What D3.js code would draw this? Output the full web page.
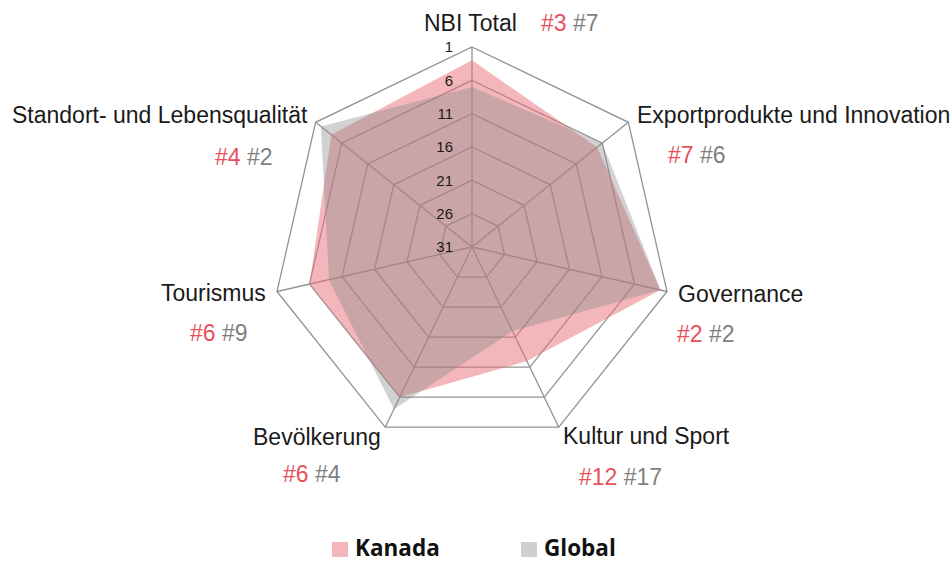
<!DOCTYPE html>
<html>
<head>
<meta charset="utf-8">
<script src="https://cdn.jsdelivr.net/npm/d3@7"></script>
<style>
  html, body { margin: 0; padding: 0; background: #fff; }
  svg { display: block; }
</style>
</head>
<body>
<svg id="chart" width="952" height="563"></svg>
<script>
// Nation Brands Index – Kanada vs. Global ranks per dimension
const categories = [
  "NBI Total",
  "Exportprodukte und Innovation",
  "Governance",
  "Kultur und Sport",
  "Bevölkerung",
  "Tourismus",
  "Standort- und Lebensqualität"
];
const kanadaRanks = [3, 7, 2, 12, 6, 6, 4];
const globalRanks = [7, 6, 2, 17, 4, 9, 2];
const tickValues = [1, 6, 11, 16, 21, 26, 31];
const seriesNames = ["Kanada", "Global"];

// Label placement for each dimension: name line and rank line (baselines)
const labelLayout = [
  { nx: 424, ny: 31, rx: 541, ry: 31 },
  { nx: 637, ny: 123, rx: 668, ry: 163 },
  { nx: 678, ny: 302, rx: 677, ry: 342 },
  { nx: 563, ny: 444, rx: 579, ry: 485 },
  { nx: 253, ny: 445, rx: 283, ry: 482 },
  { nx: 161, ny: 301, rx: 190, ry: 341 },
  { nx: 12, ny: 123, rx: 215, ry: 165 }
];

const colors = {
  kanada: "#e66e78",
  global: "#898989",
  kanadaText: "#e8505b",
  globalText: "#7f7f7f",
  grid: "#939393",
  kanadaSwatch: "#f2b6bb",
  globalSwatch: "#cfcfcf"
};

const svg = d3.select("#chart");
const cx = 472, cy = 247, R = 200;
const n = categories.length;

// Rank 1 sits on the outer ring, rank 31 at the centre
const r = d3.scaleLinear().domain([31, 1]).range([0, R]);
const angle = i => (i / n) * 2 * Math.PI;
const pt = (i, v) => [cx + r(v) * Math.sin(angle(i)), cy - r(v) * Math.cos(angle(i))];

const g = svg.append("g");

// Grid rings
g.selectAll("polygon.ring")
  .data(tickValues.slice(0, -1))
  .join("polygon")
  .attr("class", "ring")
  .attr("points", t => d3.range(n).map(i => pt(i, t).join(",")).join(" "))
  .attr("fill", "none")
  .attr("stroke", colors.grid)
  .attr("stroke-width", 1.3);

// Spokes
g.selectAll("line.spoke")
  .data(d3.range(n))
  .join("line")
  .attr("class", "spoke")
  .attr("x1", cx).attr("y1", cy)
  .attr("x2", i => pt(i, 1)[0])
  .attr("y2", i => pt(i, 1)[1])
  .attr("stroke", colors.grid)
  .attr("stroke-width", 1.3);

// Series areas: Kanada underneath, Global translucent on top
const line = d3.line().curve(d3.curveLinearClosed);
const series = [
  { name: "Kanada", values: kanadaRanks, color: colors.kanada, opacity: 0.5 },
  { name: "Global", values: globalRanks, color: colors.global, opacity: 0.38 }
];
g.selectAll("path.area")
  .data(series)
  .join("path")
  .attr("class", "area")
  .attr("d", s => line(s.values.map((v, i) => pt(i, v))))
  .attr("fill", s => s.color)
  .attr("fill-opacity", s => s.opacity)
  .attr("stroke", "none");

// Scale labels along the vertical spoke
g.selectAll("text.tick")
  .data(tickValues)
  .join("text")
  .attr("class", "tick")
  .attr("x", cx - 19)
  .attr("y", t => cy - r(t))
  .attr("dy", "0.36em")
  .attr("text-anchor", "end")
  .attr("font-family", "'Liberation Sans', Arial, sans-serif")
  .attr("font-size", 15)
  .attr("fill", "#1a1a1a")
  .text(t => t);

// Dimension names and ranks
const font = "'Liberation Sans', Arial, sans-serif";
categories.forEach((c, i) => {
  const L = labelLayout[i];
  svg.append("text")
    .attr("x", L.nx).attr("y", L.ny)
    .attr("font-family", font).attr("font-size", 23)
    .attr("fill", "#1a1a1a")
    .text(c);
  const t = svg.append("text")
    .attr("x", L.rx).attr("y", L.ry)
    .attr("font-family", font).attr("font-size", 23);
  t.append("tspan").attr("fill", colors.kanadaText).text("#" + kanadaRanks[i]);
  t.append("tspan").attr("fill", colors.globalText).text(" #" + globalRanks[i]);
});

// Legend
const legend = svg.append("g");
const legendItems = [
  { name: seriesNames[0], color: colors.kanadaSwatch, x: 332 },
  { name: seriesNames[1], color: colors.globalSwatch, x: 521 }
];
legendItems.forEach(d => {
  legend.append("rect")
    .attr("x", d.x).attr("y", 542)
    .attr("width", 16).attr("height", 15)
    .attr("fill", d.color);
  legend.append("text")
    .attr("x", d.x + 23).attr("y", 556)
    .attr("font-family", "'Open Sans', 'Noto Sans', sans-serif")
    .attr("font-weight", "bold")
    .attr("font-size", 22.5)
    .attr("fill", "#111")
    .text(d.name);
});
</script>
</body>
</html>
